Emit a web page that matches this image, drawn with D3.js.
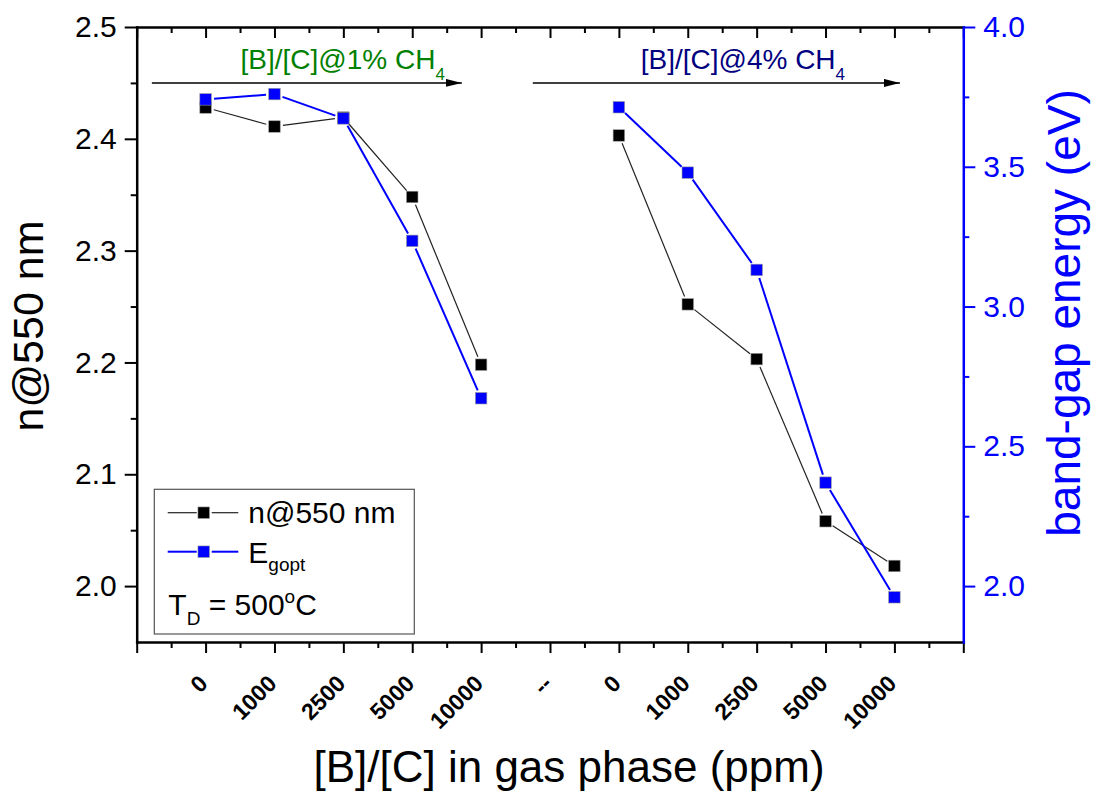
<!DOCTYPE html>
<html>
<head>
<meta charset="utf-8">
<script src="https://cdn.jsdelivr.net/npm/d3@7"></script>
<style>
  body { margin: 0; background: #fff; }
  svg { display: block; }
</style>
</head>
<body>
<svg id="chart" width="1094" height="793"></svg>
<script>
// x categories ([B]/[C] in ppm), index 5 is the "--" separator between the two CH4 groups
const categories = ["0", "1000", "2500", "5000", "10000", "--", "0", "1000", "2500", "5000", "10000"];
// n@550 nm (left axis), null where there is no point
const nValues = [2.428, 2.411, 2.419, 2.348, 2.198, null, 2.403, 2.252, 2.203, 2.058, 2.018];
// Egopt band gap in eV (right axis)
const egValues = [3.741, 3.760, 3.673, 3.235, 2.672, null, 3.713, 3.479, 3.131, 2.370, 1.960];
const leftTicks = [2.0, 2.1, 2.2, 2.3, 2.4, 2.5];
const leftMinor = [2.05, 2.15, 2.25, 2.35, 2.45];
const rightTicks = [2.0, 2.5, 3.0, 3.5, 4.0];
const rightMinor = [2.25, 2.75, 3.25, 3.75];
// group arrows, in x-index units, drawn at n = 2.45
const groupLabels = ["[B]/[C]@1% CH", "[B]/[C]@4% CH"];
const groupColors = ["#008000", "#000080"];
const arrowFrom = [-0.78, 4.75];
const arrowTo = [3.72, 10.08];
const labelAt = [1.99, 7.8];

const FONT = "'Liberation Sans', Arial, Helvetica, sans-serif";
const BLUE = "#0000ff";
const svg = d3.select("#chart").attr("font-family", FONT);
svg.append("rect").attr("width", 1094).attr("height", 793).attr("fill", "#fff");

const plotLeft = 136.7, plotRight = 963.3, plotTop = 27, plotBottom = 642;
const x = d3.scaleLinear().domain([-1, 11]).range([plotLeft, plotRight]);
const yL = d3.scaleLinear().domain([1.95, 2.5]).range([plotBottom, plotTop]);
const yR = d3.scaleLinear().domain([1.8, 4.0]).range([plotBottom, plotTop]);

// arrow head marker
svg.append("defs").append("marker")
  .attr("id", "arrow").attr("viewBox", "0 0 16 8")
  .attr("refX", 16).attr("refY", 4)
  .attr("markerWidth", 16).attr("markerHeight", 8)
  .attr("markerUnits", "userSpaceOnUse").attr("orient", "auto")
  .append("path").attr("d", "M0,0 L16,4 L0,8 Z").attr("fill", "#000");

// group annotations
groupLabels.forEach((lab, i) => {
  const ay = yL(2.45);
  svg.append("line")
    .attr("x1", x(arrowFrom[i])).attr("x2", x(arrowTo[i]))
    .attr("y1", ay).attr("y2", ay)
    .attr("stroke", "#000").attr("stroke-width", 1.5)
    .attr("marker-end", "url(#arrow)");
  const t = svg.append("text")
    .attr("x", x(labelAt[i])).attr("y", ay - 13.5)
    .attr("text-anchor", "middle").attr("font-size", 28)
    .attr("fill", groupColors[i]);
  t.append("tspan").text(lab);
  t.append("tspan").attr("font-size", 17).attr("dy", 11).text("4");
});

// series: lines stop short of the symbols (gap), then square symbols
function drawSeries(vals, yScale, color, lw, lineColor) {
  const g = svg.append("g");
  const pts = vals.map((v, i) => v == null ? null : [x(i), yScale(v)]);
  const segs = [];
  for (let i = 0; i < pts.length - 1; i++) {
    if (pts[i] && pts[i + 1]) segs.push([pts[i], pts[i + 1]]);
  }
  const gap = 8.5;
  const trimmed = segs.map(([a, b]) => {
    const dx = b[0] - a[0], dy = b[1] - a[1], L = Math.hypot(dx, dy);
    const ux = dx / L, uy = dy / L;
    return [[a[0] + ux * gap, a[1] + uy * gap], [b[0] - ux * gap, b[1] - uy * gap]];
  });
  g.selectAll("path").data(trimmed).join("path")
    .attr("d", d3.line())
    .attr("fill", "none").attr("stroke", lineColor).attr("stroke-width", lw);
  const s = 11.5;
  g.selectAll("rect").data(pts.filter(p => p)).join("rect")
    .attr("x", d => d[0] - s / 2).attr("y", d => d[1] - s / 2)
    .attr("width", s).attr("height", s)
    .attr("fill", color).attr("stroke", "#999").attr("stroke-width", 0.6);
}
drawSeries(nValues, yL, "#000", 1.2, "#222");
drawSeries(egValues, yR, BLUE, 2, BLUE);

// axes
function styleAxis(g, color, lw) {
  g.attr("font-family", FONT);
  g.select(".domain").attr("stroke", color).attr("stroke-width", lw).attr("stroke-linecap", "square");
  g.selectAll(".tick line").attr("stroke", color).attr("stroke-width", 2);
}

// left
const gL = svg.append("g").attr("transform", `translate(${plotLeft},0)`);
gL.call(d3.axisLeft(yL).tickValues(leftTicks).tickSize(12).tickPadding(8)
  .tickSizeOuter(0).tickFormat(d3.format(".1f")));
styleAxis(gL, "#000", 2.5);
gL.selectAll("text").attr("font-size", 30).attr("fill", "#000");
const gLm = svg.append("g").attr("transform", `translate(${plotLeft},0)`);
gLm.call(d3.axisLeft(yL).tickValues(leftMinor).tickSize(6).tickFormat(""));
gLm.select(".domain").remove();
styleAxis(gLm, "#000", 2.5);

// top (ticks inward, no labels)
const gT = svg.append("g").attr("transform", `translate(0,${plotTop})`);
gT.call(d3.axisTop(x).tickValues(d3.range(-1, 12)).tickSize(-11).tickSizeOuter(0).tickFormat(""));
styleAxis(gT, "#000", 2.5);
const gTm = svg.append("g").attr("transform", `translate(0,${plotTop})`);
gTm.call(d3.axisTop(x).tickValues(d3.range(-0.5, 11, 1)).tickSize(-6).tickFormat(""));
gTm.select(".domain").remove();
styleAxis(gTm, "#000", 2.5);

// bottom
const gB = svg.append("g").attr("transform", `translate(0,${plotBottom})`);
gB.call(d3.axisBottom(x).tickValues(d3.range(-1, 12)).tickSize(11).tickSizeOuter(0)
  .tickFormat(d => (d >= 0 && d < categories.length) ? categories[d] : ""));
styleAxis(gB, "#000", 2.5);
gB.selectAll("text")
  .attr("font-size", 23).attr("font-weight", "bold").attr("fill", "#000")
  .attr("text-anchor", "end").attr("x", 3).attr("y", 43).attr("dy", 0)
  .attr("transform", "rotate(-45,3,43)");
const gBm = svg.append("g").attr("transform", `translate(0,${plotBottom})`);
gBm.call(d3.axisBottom(x).tickValues(d3.range(-0.5, 11, 1)).tickSize(6).tickFormat(""));
gBm.select(".domain").remove();
styleAxis(gBm, "#000", 2.5);

// right (blue)
const gR = svg.append("g").attr("transform", `translate(${plotRight},0)`);
gR.call(d3.axisRight(yR).tickValues(rightTicks).tickSize(12).tickPadding(8)
  .tickSizeOuter(0).tickFormat(d3.format(".1f")));
styleAxis(gR, BLUE, 2.5);
gR.selectAll("text").attr("font-size", 30).attr("fill", BLUE);
const gRm = svg.append("g").attr("transform", `translate(${plotRight},0)`);
gRm.call(d3.axisRight(yR).tickValues(rightMinor).tickSize(6).tickFormat(""));
gRm.select(".domain").remove();
styleAxis(gRm, BLUE, 2.5);

// axis titles
svg.append("text").attr("transform", "translate(43,326) rotate(-90)")
  .attr("text-anchor", "middle").attr("font-size", 43).attr("fill", "#000")
  .text("n@550 nm");
svg.append("text").attr("transform", "translate(1080,313) rotate(-90)")
  .attr("text-anchor", "middle").attr("font-size", 46).attr("fill", BLUE)
  .text("band-gap energy (eV)");
svg.append("text").attr("x", 569).attr("y", 782)
  .attr("text-anchor", "middle").attr("font-size", 44).attr("fill", "#000")
  .text("[B]/[C] in gas phase (ppm)");

// legend
const lg = svg.append("g");
lg.append("rect").attr("x", 154.3).attr("y", 489.3).attr("width", 260).attr("height", 144.7)
  .attr("fill", "#fff").attr("stroke", "#555").attr("stroke-width", 1.2);
const legendItems = [
  {y: 512.7, fill: "#000", stroke: "#222", lw: 1.2},
  {y: 551.7, fill: BLUE, stroke: BLUE, lw: 2}
];
legendItems.forEach(it => {
  lg.append("line").attr("x1", 167.7).attr("x2", 196.7).attr("y1", it.y).attr("y2", it.y)
    .attr("stroke", it.stroke).attr("stroke-width", it.lw);
  lg.append("line").attr("x1", 211.7).attr("x2", 238.3).attr("y1", it.y).attr("y2", it.y)
    .attr("stroke", it.stroke).attr("stroke-width", it.lw);
  lg.append("rect").attr("x", 203.7 - 5.75).attr("y", it.y - 5.75).attr("width", 11.5).attr("height", 11.5)
    .attr("fill", it.fill).attr("stroke", "#999").attr("stroke-width", 0.6);
});
lg.append("text").attr("x", 248.3).attr("y", 523.3).attr("font-size", 30).text("n@550 nm");
const eg = lg.append("text").attr("x", 248.3).attr("y", 562.7).attr("font-size", 30);
eg.append("tspan").text("E");
eg.append("tspan").attr("font-size", 19).attr("dy", 8).text("gopt");
const td = lg.append("text").attr("x", 168.3).attr("y", 615).attr("font-size", 30);
td.append("tspan").text("T");
td.append("tspan").attr("font-size", 19).attr("dy", 10).text("D");
td.append("tspan").attr("dy", -10).text(" = 500");
td.append("tspan").attr("font-size", 19).attr("dy", -12).text("o");
td.append("tspan").attr("dy", 12).text("C");
</script>
</body>
</html>
